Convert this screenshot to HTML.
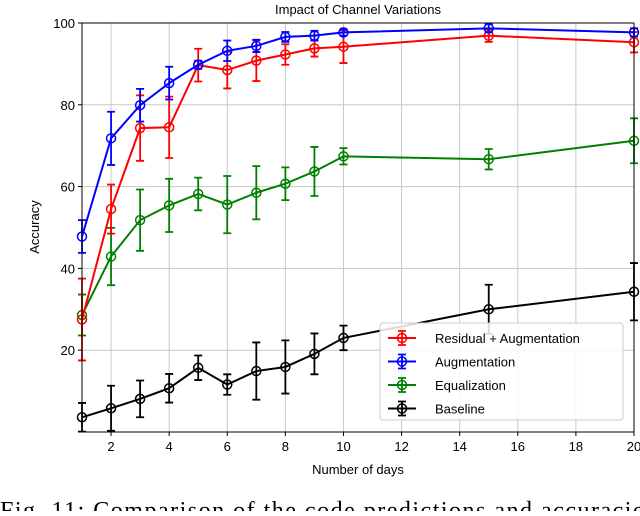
<!DOCTYPE html>
<html><head><meta charset="utf-8">
<style>
body{margin:0;background:#fff;width:640px;height:511px;overflow:hidden;font-family:"Liberation Sans",sans-serif}
svg text{font-family:"Liberation Sans",sans-serif}
</style></head><body>
<svg id="chart" width="640" height="511" xmlns="http://www.w3.org/2000/svg">
<text x="358" y="14" font-size="13" text-anchor="middle">Impact of Channel Variations</text>
<g id="grid"></g>
<g id="series"></g>
<rect x="82" y="23" width="552" height="409" fill="none" stroke="#000" stroke-width="1"/>
<g id="ticks"></g>
<text x="358" y="474" font-size="13" text-anchor="middle">Number of days</text>
<text transform="translate(39,227) rotate(-90)" font-size="13" text-anchor="middle">Accuracy</text>
<g>
<rect x="380" y="323" width="243" height="97" fill="#fff" fill-opacity="0.85" stroke="#ccc" rx="3"/>
<g id="legend-items"></g>
</g>
<text x="0" y="518" font-size="24" letter-spacing="1.5" style="font-family:'Liberation Serif',serif">Fig. 11: Comparison of the code predictions and accuracies</text>
</svg>
<script>
const days=[1,2,3,4,5,6,7,8,9,10,15,20];
const xTicks=[2,4,6,8,10,12,14,16,18,20];
const yTicks=[20,40,60,80,100];
const seriesNames=["Residual + Augmentation","Augmentation","Equalization","Baseline"];
const seriesColors=["#ff0000","#0000ff","#008000","#000000"];
const residualVals=[27.5,54.5,74.3,74.5,89.7,88.5,90.8,92.3,93.8,94.2,96.9,95.3];
const residualErr=[10,6,8,7.5,4,4.5,5,2.5,2,4,1.5,2.5];
const augVals=[47.8,71.8,79.9,85.3,89.8,93.2,94.4,96.6,96.9,97.7,98.7,97.7];
const augErr=[4,6.5,4,4,1,2.5,1.5,1.2,1.2,0.8,1,1];
const eqVals=[28.6,42.9,51.8,55.4,58.2,55.6,58.5,60.7,63.7,67.4,66.7,71.2];
const eqErr=[5,7,7.5,6.5,4,7,6.5,4,6,2,2.5,5.5];
const baseVals=[3.6,5.8,8.1,10.7,15.7,11.6,14.9,15.9,19.1,23.0,30.0,34.3];
const baseErr=[3.5,5.5,4.5,3.5,3,2.5,7,6.5,5,3,6,7];

const NS="http://www.w3.org/2000/svg";
const X=d=>82+(d-1)*552/19;
const Y=v=>432-v*4.09;
function mk(tag,attrs,parent){const e=document.createElementNS(NS,tag);for(const k in attrs)e.setAttribute(k,attrs[k]);parent.appendChild(e);return e;}
const grid=document.getElementById('grid'),ticks=document.getElementById('ticks');
xTicks.forEach(t=>{
 const g=mk('line',{x1:X(t),x2:X(t),y1:23,y2:432,stroke:'#c8c8c8','stroke-width':1},grid);
 
 mk('line',{x1:X(t),x2:X(t),y1:432,y2:436,stroke:'#000'},ticks);
 const tx=mk('text',{x:X(t),y:451,'font-size':13,'text-anchor':'middle'},ticks);tx.textContent=t;
 
});
yTicks.forEach(t=>{
 const g=mk('line',{x1:82,x2:634,y1:Y(t),y2:Y(t),stroke:'#c8c8c8','stroke-width':1},grid);
 
 mk('line',{x1:78,x2:82,y1:Y(t),y2:Y(t),stroke:'#000'},ticks);
 const tx=mk('text',{x:75,y:Y(t)+5,'font-size':13,'text-anchor':'end'},ticks);tx.textContent=t;
 
});
const sv=document.getElementById('series');
const allVals=[residualVals,augVals,eqVals,baseVals],allErr=[residualErr,augErr,eqErr,baseErr];
[3,2,0,1].forEach(i=>{
 const c=seriesColors[i],vals=allVals[i],err=allErr[i];
 const g=mk('g',{},sv);
 
 
 const pl=mk('polyline',{points:days.map((d,j)=>X(d)+','+Y(vals[j])).join(' '),fill:'none',stroke:c,'stroke-width':2},g);
 
 days.forEach((d,j)=>{
  const x=X(d),y1=Y(vals[j]+err[j]),y2=Y(vals[j]-err[j]);
  const eb=mk('path',{d:`M${x},${y1}V${y2}M${x-4},${y1}H${x+4}M${x-4},${y2}H${x+4}`,stroke:c,'stroke-width':1.8,fill:'none'},g);
  
  const p=mk('circle',{cx:x,cy:Y(vals[j]),r:4.5,fill:'none',stroke:c,'stroke-width':1.5},g);
  
 });
});
const li=document.getElementById('legend-items');
seriesNames.forEach((n,i)=>{
 const y=338+i*23.5,c=seriesColors[i];
 const g=mk('g',{},li);
 
 mk('line',{x1:388,x2:416,y1:y,y2:y,stroke:c,'stroke-width':2},g);
 mk('path',{d:`M402,${y-7}V${y+7}M398,${y-7}H406M398,${y+7}H406`,stroke:c,'stroke-width':1.8,fill:'none'},g);
 mk('circle',{cx:402,cy:y,r:4.5,fill:'none',stroke:c,'stroke-width':1.5},g);
 const t=mk('text',{x:435,y:y+5,'font-size':13},g);t.textContent=n;
});
</script>
</body></html>
